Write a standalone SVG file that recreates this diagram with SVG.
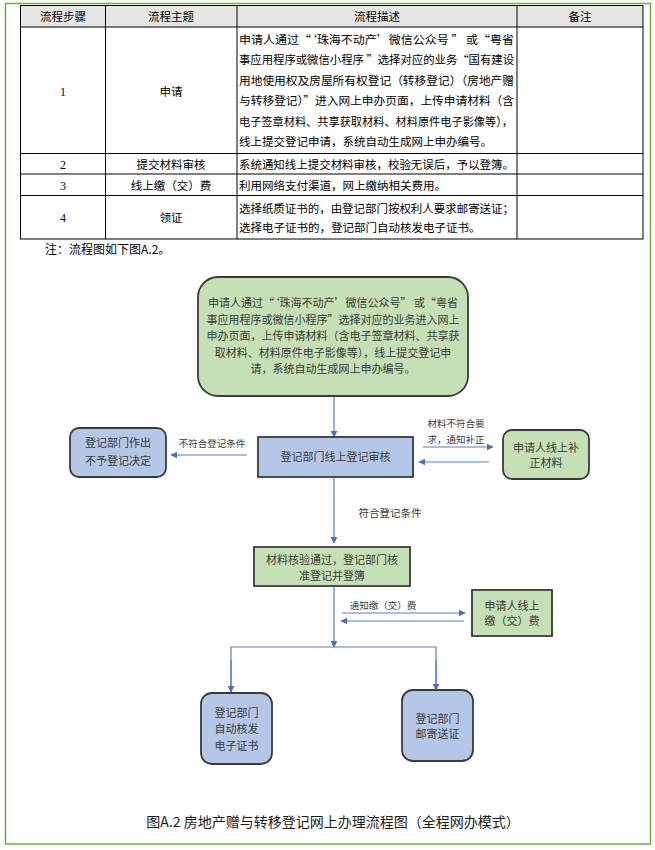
<svg xmlns="http://www.w3.org/2000/svg" width="655" height="850" viewBox="0 0 655 850">
<defs>
<style>
.t{font-family:"Noto Sans CJK SC","Noto Sans",sans-serif;font-size:11.5px;fill:#000}
.c{text-anchor:middle}
.num{font-family:"Liberation Serif","Noto Sans CJK SC",serif;font-size:12px;text-anchor:middle}
.f{font-family:"Noto Sans CJK SC","Noto Sans",sans-serif;font-size:11px;fill:#3a3a3a;text-anchor:middle}
.lb{font-family:"Noto Sans CJK SC","Noto Sans",sans-serif;font-size:9.5px;fill:#3a3a3a;text-anchor:middle}
.g{fill:#c5e0b4;stroke:#3b3b3b;stroke-width:1.8}
.b{fill:#b4c7e7;stroke:#3b3b3b;stroke-width:1.8}
.cn{fill:none;stroke:#5b7cc4;stroke-width:1.2}
.grid{stroke:#000;stroke-width:1;fill:none}
</style>
<marker id="ah" viewBox="0 0 10 10" refX="9" refY="5" markerWidth="7" markerHeight="7" markerUnits="userSpaceOnUse" orient="auto">
<path d="M0,0 L10,5 L0,10 z" fill="#4a6fc0"/>
</marker>
</defs>
<rect x="0" y="0" width="655" height="850" fill="#fff"/>
<rect x="5.5" y="3.5" width="645" height="840.5" fill="none" stroke="#70ad47" stroke-width="1.5"/>

<g id="table">
<rect x="20.5" y="5.5" width="622.5" height="21.5" fill="#e7e6e6"/>
<rect class="grid" x="20.5" y="5.5" width="622.5" height="233.5"/>
<line class="grid" x1="105.5" y1="5.5" x2="105.5" y2="239"/>
<line class="grid" x1="237" y1="5.5" x2="237" y2="239"/>
<line class="grid" x1="517" y1="5.5" x2="517" y2="239"/>
<line class="grid" x1="20.5" y1="27" x2="643" y2="27"/>
<line class="grid" x1="20.5" y1="153.5" x2="643" y2="153.5"/>
<line class="grid" x1="20.5" y1="174" x2="643" y2="174"/>
<line class="grid" x1="20.5" y1="195.5" x2="643" y2="195.5"/>
<text class="t c" x="63" y="21">流程步骤</text>
<text class="t c" x="171" y="21">流程主题</text>
<text class="t c" x="377" y="21">流程描述</text>
<text class="t c" x="580" y="21">备注</text>
<text class="num" x="63" y="96">1</text>
<text class="t c" x="171" y="96">申请</text>
<text class="t" x="239" y="43.5" textLength="275" lengthAdjust="spacingAndGlyphs">申请人通过“‘珠海不动产’微信公众号 ” 或“粤省</text>
<text class="t" x="239" y="64" textLength="275" lengthAdjust="spacingAndGlyphs">事应用程序或微信小程序 ”选择对应的业务“国有建设</text>
<text class="t" x="239" y="84.5" textLength="275" lengthAdjust="spacingAndGlyphs">用地使用权及房屋所有权登记（转移登记）（房地产赠</text>
<text class="t" x="239" y="105" textLength="275" lengthAdjust="spacingAndGlyphs">与转移登记）”进入网上申办页面，上传申请材料（含</text>
<text class="t" x="239" y="125.5" textLength="274" lengthAdjust="spacingAndGlyphs">电子签章材料、共享获取材料、材料原件电子影像等），</text>
<text class="t" x="239" y="146">线上提交登记申请，系统自动生成网上申办编号。</text>
<text class="num" x="63" y="168.5">2</text>
<text class="t c" x="171" y="168.5">提交材料审核</text>
<text class="t" x="239" y="168.5" textLength="275" lengthAdjust="spacingAndGlyphs">系统通知线上提交材料审核，校验无误后，予以登簿。</text>
<text class="num" x="63" y="189.5">3</text>
<text class="t c" x="171" y="189.5">线上缴（交）费</text>
<text class="t" x="239" y="189.5">利用网络支付渠道，网上缴纳相关费用。</text>
<text class="num" x="63" y="222">4</text>
<text class="t c" x="171" y="222">领证</text>
<text class="t" x="239" y="212.5" textLength="275" lengthAdjust="spacingAndGlyphs">选择纸质证书的，由登记部门按权利人要求邮寄送证；</text>
<text class="t" x="239" y="232">选择电子证书的，登记部门自动核发电子证书。</text>
</g>

<text class="t" x="45" y="254" style="font-size:12px">注：流程图如下图A.2。</text>

<g id="connectors">
<line class="cn" x1="334" y1="396" x2="334" y2="437" marker-end="url(#ah)"/>
<line class="cn" x1="247" y1="455" x2="171" y2="455" marker-end="url(#ah)"/>
<line class="cn" x1="423" y1="447" x2="493" y2="447" marker-end="url(#ah)"/>
<line class="cn" x1="489" y1="462" x2="419" y2="462" marker-end="url(#ah)"/>
<line class="cn" x1="334" y1="478" x2="334" y2="543" marker-end="url(#ah)"/>
<line class="cn" x1="342" y1="613" x2="465" y2="613" marker-end="url(#ah)"/>
<line class="cn" x1="464" y1="621" x2="341" y2="621" marker-end="url(#ah)"/>
<line class="cn" x1="334" y1="587" x2="334" y2="647" marker-end="url(#ah)"/>
<polyline class="cn" points="231,692 231,647 436,647 436,690"/>
<line class="cn" x1="231" y1="660" x2="231" y2="692" marker-end="url(#ah)"/>
<line class="cn" x1="436" y1="660" x2="436" y2="690" marker-end="url(#ah)"/>
<text class="lb" x="212" y="446.5">不符合登记条件</text>
<text class="lb" x="456" y="426.5">材料不符合要</text>
<text class="lb" x="456" y="442.5">求，通知补正</text>
<text class="lb" x="390" y="517" style="font-size:10.5px">符合登记条件</text>
<text class="lb" x="383" y="608.5">通知缴（交）费</text>
</g>

<g id="nodeA">
<rect class="g" x="198" y="277" width="270" height="119" rx="20"/>
<text class="f" x="333" y="307">申请人通过“‘珠海不动产’微信公众号” 或“粤省</text>
<text class="f" x="333" y="323.5">事应用程序或微信小程序”选择对应的业务进入网上</text>
<text class="f" x="333" y="340">申办页面，上传申请材料（含电子签章材料、共享获</text>
<text class="f" x="333" y="356.5">取材料、材料原件电子影像等），线上提交登记申</text>
<text class="f" x="333" y="373">请，系统自动生成网上申办编号。</text>
</g>

<g id="nodeB">
<rect class="b" x="258" y="437" width="155" height="40"/>
<text class="f" x="335.5" y="461">登记部门线上登记审核</text>
</g>

<g id="nodeC">
<rect class="b" x="70" y="428" width="96" height="49" rx="9"/>
<text class="f" x="118" y="447">登记部门作出</text>
<text class="f" x="118" y="465">不予登记决定</text>
</g>

<g id="nodeD">
<rect class="g" x="503" y="430" width="86" height="49" rx="9"/>
<text class="f" x="546" y="452">申请人线上补</text>
<text class="f" x="546" y="467">正材料</text>
</g>

<g id="nodeE">
<rect class="g" x="254" y="547" width="156" height="39"/>
<text class="f" x="332" y="564">材料核验通过，登记部门核</text>
<text class="f" x="332" y="579.5">准登记并登簿</text>
</g>

<g id="nodeF">
<rect class="g" x="472" y="590" width="80" height="46"/>
<text class="f" x="512" y="610">申请人线上</text>
<text class="f" x="512" y="625">缴（交）费</text>
</g>

<g id="nodeG">
<rect class="b" x="201" y="693" width="71" height="71" rx="11"/>
<text class="f" x="236.5" y="717">登记部门</text>
<text class="f" x="236.5" y="733">自动核发</text>
<text class="f" x="236.5" y="750">电子证书</text>
</g>

<g id="nodeH">
<rect class="b" x="402" y="690" width="71" height="71" rx="11"/>
<text class="f" x="437.5" y="723">登记部门</text>
<text class="f" x="437.5" y="737.5">邮寄送证</text>
</g>

<text x="333" y="827" text-anchor="middle" style="font-family:'Noto Sans CJK SC','Noto Sans',sans-serif;font-size:14px;fill:#1a1a1a">图A.2 房地产赠与转移登记网上办理流程图（全程网办模式）</text>
</svg>
